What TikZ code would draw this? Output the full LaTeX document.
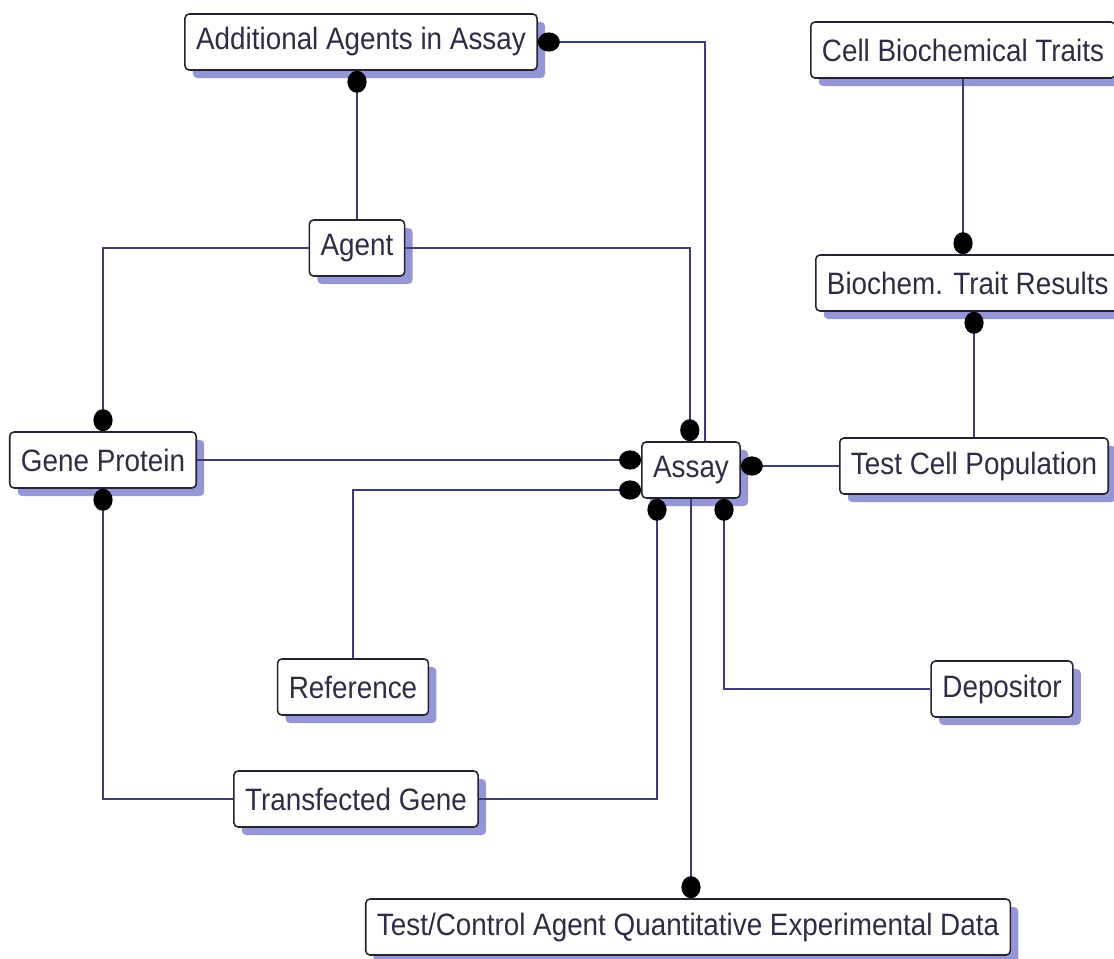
\documentclass[tikz,border=0pt]{standalone}
\usepackage{fontspec}
\newfontfamily\boxfont[FakeStretch=0.9]{Liberation Sans}
\usetikzlibrary{arrows.meta,shadows}
\definecolor{linknavy}{RGB}{60,60,120}
\definecolor{boxedge}{RGB}{35,35,50}
\definecolor{shadowblue}{RGB}{150,150,215}
\definecolor{boxtext}{RGB}{45,45,70}
\tikzset{
  blob/.tip={Circle[length=0.55cm,width=0.48cm,color=black]},
  entity/.style={draw=boxedge,line width=1.1pt,fill=white,rounded corners=3pt,
    minimum height=1.4cm,inner xsep=0.28cm,text=boxtext,
    font=\boxfont\fontsize{22}{24}\selectfont,
    drop shadow={shadow xshift=0.2cm,shadow yshift=-0.2cm,fill=shadowblue,opacity=1}},
  link/.style={draw=linknavy,line width=1.4pt}
}
\begin{document}
\begin{tikzpicture}[x=0.025cm,y=-0.025cm]
  \useasboundingbox (0,0) rectangle (1114,959);
  % entities
  \node[entity] (addl) at (361,42) {Additional Agents in Assay};
  \node[entity,anchor=west] (cellbio) at (810,50) {Cell Biochemical Traits};
  \node[entity,anchor=west] (biores) at (815,283) {Biochem. Trait Results};
  \node[entity] (agent) at (357,248) {Agent};
  \node[entity] (gene) at (103,460) {Gene Protein};
  \node[entity] (assay) at (691,470) {Assay};
  \node[entity,anchor=west] (testcell) at (839,466) {Test Cell Population};
  \node[entity] (ref) at (353,687) {Reference};
  \node[entity] (depositor) at (1002,689) {Depositor};
  \node[entity] (transf) at (356,799) {Transfected Gene};
  \node[entity] (quant) at (688,927) {Test/Control Agent Quantitative Experimental Data};
  % relations
  \draw[link,blob-] (addl.east) -| ([xshift=0.35cm]assay.north);
  \draw[link,-blob] (agent.north) -- (agent.north |- addl.south);
  \draw[link,-blob] (agent.east) -| ([xshift=-0.03cm]assay.north);
  \draw[link,-blob] (agent.west) -| (gene.north);
  \draw[link,-blob] (gene.east) -- (gene.east -| assay.west);
  \draw[link,-blob] (ref.north) |- ([yshift=-0.5cm]assay.west);
  \draw[link,-blob] (transf.east) -| ([xshift=-0.85cm]assay.south);
  \draw[link,-blob] (transf.west) -| (gene.south);
  \draw[link,-blob] (depositor.west) -| ([xshift=0.825cm]assay.south);
  \draw[link,-blob] (assay.south) -- (assay.south |- quant.north);
  \draw[link,-blob] (testcell.west) -- (testcell.west -| assay.east);
  \draw[link,-blob] (testcell.north) -- (testcell.north |- biores.south);
  \draw[link,-blob] (cellbio.south) -- (cellbio.south |- biores.north);
\end{tikzpicture}
\end{document}
